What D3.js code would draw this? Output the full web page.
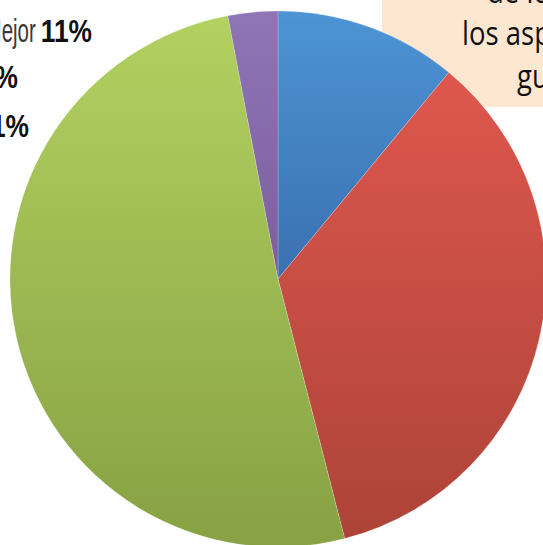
<!DOCTYPE html>
<html>
<head>
<meta charset="utf-8">
<script src="https://cdn.jsdelivr.net/npm/d3@7"></script>
<style>
  html, body { margin: 0; padding: 0; background: #fff; overflow: hidden; }
  svg { display: block; }
</style>
</head>
<body>
<svg id="chart" width="543" height="545"></svg>
<script>
// Opinion shares, clockwise from twelve o'clock
const categories = ["Mejor", "Igual", "Peor", "NS/NC"];
const shares = [11, 35, 51, 3];
const topColors = ["#4d94d5", "#de574e", "#b2d161", "#9075b6"];
const bottomColors = ["#3a70b0", "#ad4338", "#87a143", "#7a5e9e"];

// Legend rows that are listed beside the pie
const legendRows = [0, 1, 2];

// Lines of the note in the top-right box
const noteLines = ["de los", "los aspectos", "gubernamentales"];

const svg = d3.select("#chart");
const cx = 278, cy = 279, R = 268;

const defs = svg.append("defs");
categories.forEach((c, i) => {
  const g = defs.append("linearGradient")
    .attr("id", "grad" + i)
    .attr("x1", 0).attr("y1", 0).attr("x2", 0).attr("y2", 1);
  g.append("stop").attr("offset", "0%").attr("stop-color", topColors[i]);
  g.append("stop").attr("offset", "100%").attr("stop-color", bottomColors[i]);
});

// Note box sits behind the pie
svg.append("rect")
  .attr("x", 382).attr("y", -5)
  .attr("width", 200).attr("height", 112)
  .attr("fill", "#fde7d0");

const pie = d3.pie().sort(null).value(d => d)
  .startAngle(0).endAngle(2 * Math.PI);
const arc = d3.arc().innerRadius(0).outerRadius(R);

svg.append("g")
  .attr("transform", `translate(${cx},${cy})`)
  .selectAll("path")
  .data(pie(shares))
  .join("path")
  .attr("d", arc)
  .attr("fill", (d, i) => `url(#grad${i})`)
  .attr("stroke", "rgba(255,255,255,0.35)")
  .attr("stroke-width", 0.6);

// Legend labels: condensed category name, then its share in bold
const legendEnds = [92, 18, 29];
const legendBase = [42, 88, 137];
const nameScale = 0.62, valueScale = 0.85;
const leg = svg.append("g")
  .style("font-family", "'Liberation Sans', Arial, sans-serif");
legendRows.forEach((k, r) => {
  const v = leg.append("text")
    .attr("transform", `translate(${legendEnds[r]},${legendBase[r]}) scale(${valueScale},1)`)
    .attr("text-anchor", "end")
    .attr("font-size", 31)
    .attr("font-weight", "bold")
    .attr("fill", "#111")
    .text(shares[k] + "%");
  const w = v.node().getComputedTextLength() * valueScale;
  leg.append("text")
    .attr("transform", `translate(${legendEnds[r] - w - 5},${legendBase[r]}) scale(${nameScale},1)`)
    .attr("text-anchor", "end")
    .attr("font-size", 33)
    .attr("fill", "#3a3a3a")
    .text(categories[k]);
});

// Note text, drawn over the box and pie
const noteX = [487, 462, 517];
const noteY = [3, 45, 88];
svg.append("g")
  .style("font-family", "'Open Sans', 'Noto Sans', sans-serif")
  .attr("font-size", 32)
  .attr("fill", "#111")
  .selectAll("text")
  .data(noteLines)
  .join("text")
  .attr("transform", (d, i) => `translate(${noteX[i]},${noteY[i]}) scale(0.86,1)`)
  .text(d => d);
</script>
</body>
</html>
